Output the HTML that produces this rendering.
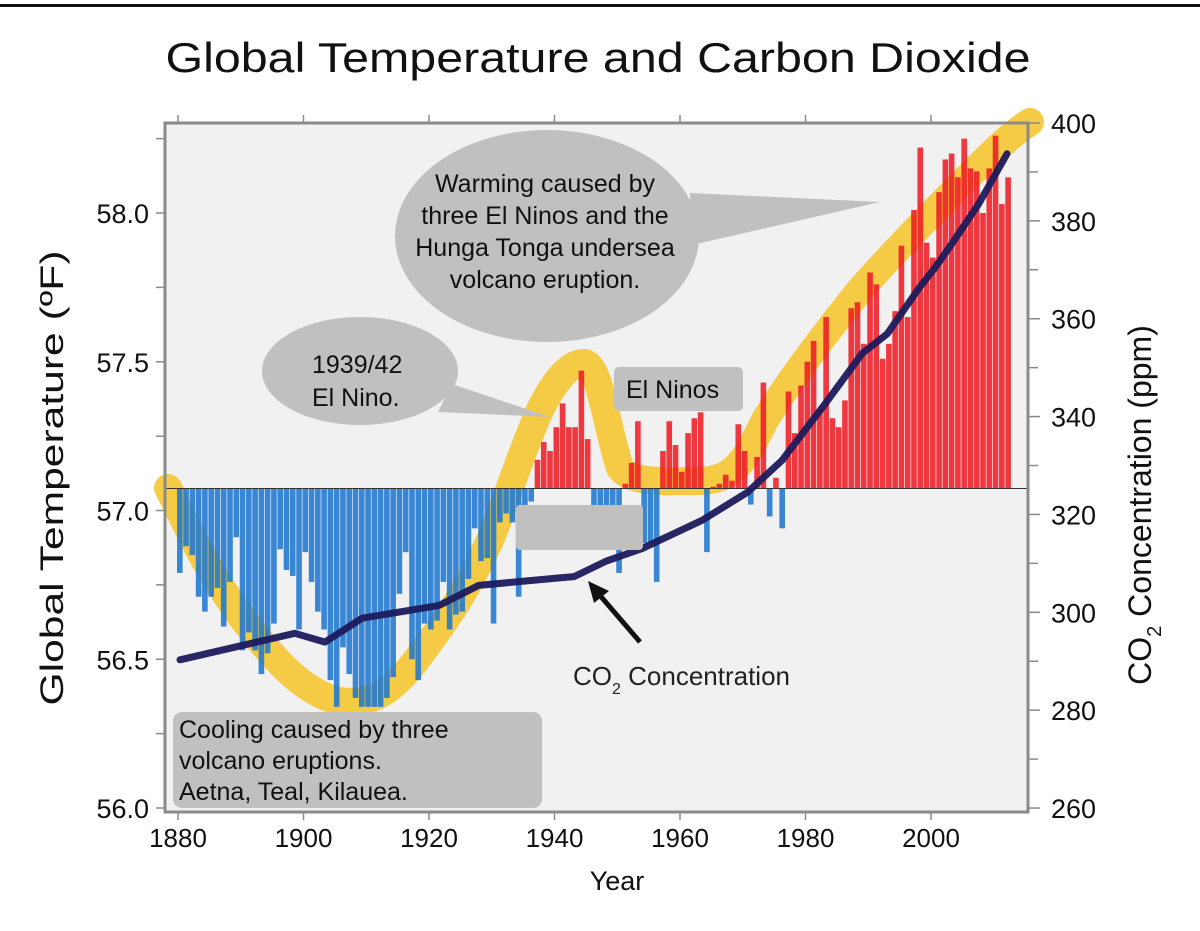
<!DOCTYPE html>
<html><head><meta charset="utf-8"><style>
html,body{margin:0;padding:0;background:#fff;}
svg{display:block;font-family:"Liberation Sans",Arial,sans-serif;}
</style></head><body>
<svg id="chart" width="1200" height="931" viewBox="0 0 1200 931" xmlns="http://www.w3.org/2000/svg">
<rect x="0" y="4" width="1200" height="3" fill="#111"/>
<text x="598" y="72" font-size="42" text-anchor="middle" textLength="865" lengthAdjust="spacingAndGlyphs" fill="#111">Global Temperature and Carbon Dioxide</text>
<rect x="165" y="123" width="863" height="689" fill="#f1f1f1"/>
<g id="highlight"></g>
<g id="bars"></g>
<line id="baseline" x1="165" x2="1028" stroke="#333" stroke-width="1"/>
<g id="co2"></g>
<g id="axes"></g>
<g>
<ellipse cx="547" cy="236" rx="152" ry="106" fill="#c0c0c0"/>
<polygon points="690,193 880,202 692,245" fill="#c0c0c0"/>
<text font-size="25" text-anchor="middle" fill="#111"><tspan x="545" y="192">Warming caused by</tspan><tspan x="545" y="224">three El Ninos and the</tspan><tspan x="545" y="256">Hunga Tonga undersea</tspan><tspan x="545" y="288">volcano eruption.</tspan></text>
</g>
<g>
<ellipse cx="360" cy="371" rx="98" ry="54" fill="#c0c0c0"/>
<polygon points="452,384 550,417 438,412" fill="#c0c0c0"/>
<text font-size="25" fill="#111"><tspan x="312" y="373">1939/42</tspan><tspan x="312" y="406">El Nino.</tspan></text>
</g>
<g>
<rect x="614" y="367" width="129" height="44" rx="5" fill="#c0c0c0"/>
<text x="626" y="398" font-size="25" fill="#111">El Ninos</text>
</g>
<rect x="516" y="505" width="127" height="45" rx="4" fill="#c0c0c0"/>
<g>
<rect x="173" y="712" width="369" height="96" rx="9" fill="#c0c0c0"/>
<text font-size="25" fill="#111"><tspan x="179" y="738">Cooling caused by three</tspan><tspan x="179" y="769">volcano eruptions.</tspan><tspan x="179" y="800">Aetna, Teal, Kilauea.</tspan></text>
</g>
<g>
<line x1="640" y1="642" x2="597" y2="592" stroke="#111" stroke-width="5"/>
<polygon points="588,581 609,591 594,603" fill="#111"/>
<text x="573" y="685" font-size="26" fill="#222">CO<tspan font-size="16" dy="9">2</tspan><tspan dy="-9"> Concentration</tspan></text>
</g>
<text x="617" y="890" font-size="27" text-anchor="middle" fill="#111">Year</text>
<text transform="translate(63,478) rotate(-90)" font-size="32" text-anchor="middle" textLength="455" lengthAdjust="spacingAndGlyphs" fill="#111">Global Temperature (ºF)</text>
<text transform="translate(1151,505) rotate(-90)" font-size="32" text-anchor="middle" fill="#111">CO<tspan font-size="20" dy="10">2</tspan><tspan dy="-10"> Concentration (ppm)</tspan></text>
</svg>
<script>
const years = [];
for (let y = 1880; y <= 2012; y++) years.push(y);
const temps = [56.79,56.88,56.85,56.71,56.66,56.71,56.74,56.61,56.76,56.91,
56.53,56.59,56.53,56.45,56.52,56.62,56.87,56.80,56.78,56.60,
56.86,56.76,56.66,56.60,56.43,56.34,56.54,56.45,56.37,56.34,
56.34,56.34,56.34,56.37,56.44,56.72,56.86,56.50,56.43,56.62,
56.60,56.63,56.76,56.60,56.65,56.66,56.77,56.94,56.83,56.84,
56.62,56.96,56.99,56.96,56.71,57.00,57.03,57.17,57.23,57.20,
57.28,57.36,57.28,57.28,57.47,57.24,56.88,56.88,56.88,56.88,
56.79,57.09,57.16,57.30,56.89,56.89,56.76,57.20,57.30,57.22,
57.13,57.26,57.31,57.33,56.86,57.08,57.09,57.12,57.10,57.29,
57.20,57.02,57.18,57.43,56.98,57.11,56.94,57.40,57.26,57.42,
57.50,57.57,57.34,57.65,57.31,57.28,57.37,57.68,57.70,57.56,
57.80,57.76,57.51,57.56,57.67,57.89,57.65,58.01,58.22,57.90,
57.85,58.07,58.18,58.20,58.12,58.25,58.15,58.14,58.00,58.15,
58.26,58.03,58.12];
const baselineTemp = 57.074;
const co2Years = [1880,1898.3,1903.1,1909,1921.3,1927.6,1940.9,1942.8,1948,1953.6,1963.2,1970.4,1975.9,1982.8,1988.7,1992.7,1997.8,2000.3,2003,2007.3,2011.8];
const co2Values = [290.3,295.7,293.9,298.8,301.4,305.5,307.1,307.3,310.5,313,318.8,324.5,331,342.6,352.9,356.9,366.3,370.4,375.3,383.5,393.7];
const xTicks = [1880,1900,1920,1940,1960,1980,2000];
const leftTicks = ["56.0","56.5","57.0","57.5","58.0"];
const rightTicks = ["260","280","300","320","340","360","380","400"];

const NS = "http://www.w3.org/2000/svg";
function xS(yr){ return 178 + (yr - 1880) * 6.275; }
function yT(t){ return 213 + (58 - t) * 297.5; }
function yC(p){ return 123 + (400 - p) * 4.893; }
function mk(tag, attrs, parent){ const e = document.createElementNS(NS, tag); for (const k in attrs) e.setAttribute(k, attrs[k]); parent.appendChild(e); return e; }

const hl = document.getElementById('highlight');
const hp = mk('path', {d:"M168,488 C185,520 200,560 240,615 C270,655 300,690 335,700 C370,708 395,690 420,655 C450,615 470,585 490,540 C505,505 520,455 540,410 C555,380 570,362 585,363 C600,368 605,420 620,468 C630,482 660,482 700,481 C735,480 745,460 765,420 C790,380 820,340 860,290 C900,245 940,205 975,170 C995,150 1010,135 1030,122", fill:"none", stroke:"#f5c836", "stroke-width":"28", "stroke-linecap":"round", "stroke-linejoin":"round", opacity:"0.92"}, hl);



const bars = document.getElementById('bars');
const y0 = yT(baselineTemp);
document.getElementById('baseline').setAttribute('y1', y0);
document.getElementById('baseline').setAttribute('y2', y0);
years.forEach((yr, i) => {
  const t = temps[i];
  const yv = yT(t);
  const r = mk('rect', {x: xS(yr) - 1, y: Math.min(yv, y0), width: 5.6, height: Math.abs(yv - y0), fill: t >= baselineTemp ? "#ee1c25" : "#1f78cf", opacity: "0.88"}, bars);
  
  
});

const co2 = document.getElementById('co2');
let d = "";
co2Years.forEach((yr, i) => { d += (i ? " L" : "M") + (xS(yr) + 2).toFixed(1) + "," + yC(co2Values[i]).toFixed(1); });
const cl = mk('path', {d: d, fill: "none", stroke: "#1c1a5c", "stroke-width": "7", "stroke-linecap": "round", "stroke-linejoin": "round", opacity: "0.95"}, co2);



const axes = document.getElementById('axes');
const frame = mk('rect', {x:165, y:123, width:863, height:689, fill:"none", stroke:"#8a8a8a", "stroke-width":"3"}, axes);


xTicks.forEach(yr => {
  const x = xS(yr);
  mk('line', {x1:x, x2:x, y1:812, y2:820, stroke:"#8a8a8a", "stroke-width":"1.5"}, axes);
  mk('line', {x1:x, x2:x, y1:115, y2:123, stroke:"#8a8a8a", "stroke-width":"1.5"}, axes);
  const tx = mk('text', {x:x, y:847, "font-size":"26", "text-anchor":"middle", fill:"#111"}, axes);
  tx.textContent = yr;
  
  
});
leftTicks.forEach(lbl => {
  const v = parseFloat(lbl), y = yT(v);
  mk('line', {x1:156, x2:165, y1:y, y2:y, stroke:"#8a8a8a", "stroke-width":"1.5"}, axes);
  if (v < 58) { const ym = yT(v + 0.25); mk('line', {x1:156, x2:165, y1:ym, y2:ym, stroke:"#8a8a8a", "stroke-width":"1.5"}, axes); }
  const tx = mk('text', {x:149, y:y + 10, "font-size":"27", "text-anchor":"end", fill:"#111"}, axes);
  tx.textContent = lbl;
  
  
});
{ const ym = yT(58.25); mk('line', {x1:156, x2:165, y1:ym, y2:ym, stroke:"#8a8a8a", "stroke-width":"1.5"}, axes); }
rightTicks.forEach(lbl => {
  const v = parseFloat(lbl), y = yC(v);
  mk('line', {x1:1028, x2:1040, y1:y, y2:y, stroke:"#8a8a8a", "stroke-width":"1.5"}, axes);
  if (v < 400) { const ym = yC(v + 10); mk('line', {x1:1028, x2:1038, y1:ym, y2:ym, stroke:"#8a8a8a", "stroke-width":"1.5"}, axes); }
  const tx = mk('text', {x:1051, y:y + 10, "font-size":"27", fill:"#111"}, axes);
  tx.textContent = lbl;
  
  
});
</script>
</body></html>
